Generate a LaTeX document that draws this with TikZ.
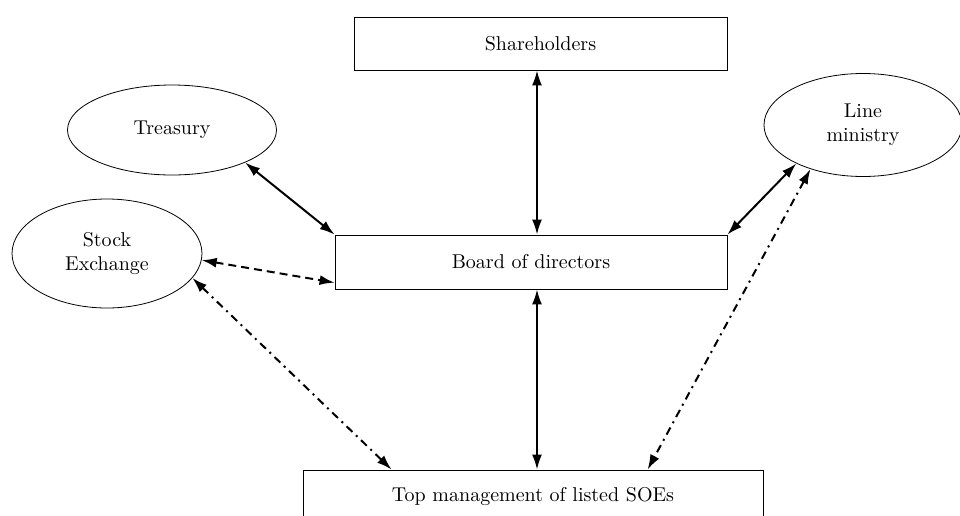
\documentclass[tikz,border=0pt]{standalone}
\usepackage{tikz}
\usetikzlibrary{shapes.geometric, positioning, calc, arrows.meta}

\tikzset{
    box/.style={rectangle, draw, thin, inner sep=0pt},
    oval/.style={ellipse, draw, thin, inner sep=0pt, align=center},
    link/.style={line width=1pt, <->},
    dashlink/.style={link, dash pattern=on 4pt off 2.5pt},
    dotlink/.style={link, dash pattern=on 4pt off 2.5pt on 1pt off 2.5pt}
}

\begin{document}
\begin{tikzpicture}[x=0.5pt, y=-0.5pt, >={Latex[length=7.5pt, width=5pt]}]

    % --- Canvas ---
    \useasboundingbox (0,0) rectangle (960,515);
    \clip (0,0) rectangle (960,515);

    % --- Boxes ---
    \node[box, minimum width=186.5pt, minimum height=26.5pt] (share) at (540.5,43.5) {Shareholders};
    \node[box, minimum width=196pt, minimum height=27pt] (board) at (531,262) {Board of directors};
    \node[box, minimum width=230pt, minimum height=27pt] (top) at (533,497) {Top management of listed SOEs};

    % --- Ellipses ---
    \node[oval, minimum width=104.5pt, minimum height=45pt] (treasury) at (172,130) {Treasury};
    \node[oval, minimum width=95pt, minimum height=54.5pt] (stock) at (107,253.5) {Stock\\Exchange};
    \node[oval, minimum width=99pt, minimum height=51.5pt] (line) at (863,125) {Line\\ministry};

    % --- Vertical links ---
    \coordinate (mid) at (537,0);
    \draw[link] (share.south -| mid) -- (board.north -| mid);
    \draw[link] (board.south -| mid) -- (top.north -| mid);

    % --- Links to the board ---
    \draw[link] (treasury.-24) -- (board.north west);
    \draw[link] (line.210) -- (board.north east);
    \draw[dashlink] (stock.-4.5) -- (board.186);

    % --- Links to top management ---
    \draw[dotlink] (stock.-16) -- ($(top.north west)+(89,0)$);
    \draw[dotlink] (line.220) -- ($(top.north west)+(345,0)$);

\end{tikzpicture}
\end{document}
